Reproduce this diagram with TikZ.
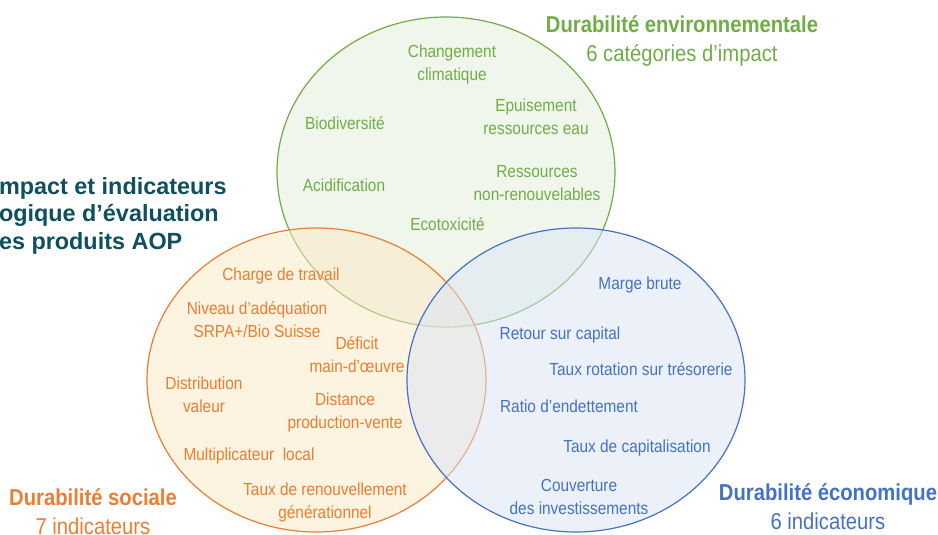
\documentclass[tikz,border=0pt]{standalone}
\usepackage{fontspec}
\setmainfont{Liberation Sans}[FakeStretch=0.88]
\newfontfamily\titlefont{Liberation Sans}
\definecolor{envColor}{RGB}{112,173,71}
\definecolor{socColor}{RGB}{237,125,49}
\definecolor{ecoColor}{RGB}{68,114,196}
\definecolor{envFill}{RGB}{226,239,218}
\definecolor{socFill}{RGB}{252,232,196}
\definecolor{ecoFill}{RGB}{218,229,245}
\definecolor{titleColor}{RGB}{14,79,96}
\begin{document}
\begin{tikzpicture}[x=1pt,y=1pt,
  txt/.style={anchor=base,inner sep=0pt,outer sep=0pt,align=center},
  item/.style={txt,font=\fontsize{17.5}{23}\selectfont},
  head/.style={txt,font=\fontsize{23}{29}\selectfont},
  bubble/.style={line width=1.2pt,fill opacity=0.5}]
\definecolor{fillColor}{RGB}{255,255,255}
\path[use as bounding box,fill=fillColor] (0,0) rectangle (938,535);

% the three domains
\path[bubble,draw=envColor,fill=envFill] (446,363) ellipse (169 and 155);
\path[bubble,draw=socColor,fill=socFill] (316.5,155) ellipse (169.5 and 152);
\path[bubble,draw=ecoColor,fill=ecoFill] (576,155) ellipse (169 and 152);

% title (base = last line)
\node[txt,align=left,anchor=base west,text=titleColor,font=\titlefont\bfseries\fontsize{23.4}{27.5}\selectfont] (title) at (-1,285.6)
  {mpact et indicateurs\\ogique d’évaluation\\es produits AOP};

% environnement
\node[head,text=envColor] (envHead) at (682,473.8) {{\bfseries Durabilité environnementale}\\6 catégories d’impact};
\node[item,text=envColor] (chgClim) at (452,454.7) {Changement\\climatique};
\node[item,text=envColor] (biodiv) at (345,405.7) {Biodiversité};
\node[item,text=envColor] (epuisEau) at (536,400.7) {Epuisement\\ressources eau};
\node[item,text=envColor] (acidif) at (344,343.7) {Acidification};
\node[item,text=envColor] (resNonRen) at (537,334.7) {Ressources\\non-renouvelables};
\node[item,text=envColor] (ecotox) at (447.5,304.7) {Ecotoxicité};

% social
\node[head,text=socColor] (socHead) at (93,0.8) {{\bfseries Durabilité sociale}\\7 indicateurs};
\node[item,text=socColor] (charge) at (281,254.7) {Charge de travail};
\node[item,text=socColor] (niveau) at (257,197.7) {Niveau d’adéquation\\SRPA+/Bio Suisse};
\node[item,text=socColor] (deficit) at (357,162.7) {Déficit\\main-d'œuvre};
\node[item,text=socColor] (distrib) at (204,122.7) {Distribution\\valeur};
\node[item,text=socColor] (distance) at (345,106.7) {Distance\\production-vente};
\node[item,text=socColor] (multLoc) at (249,74.7) {Multiplicateur \ local};
\node[item,text=socColor] (renouv) at (325,16.7) {Taux de renouvellement\\générationnel};

% economique
\node[head,text=ecoColor] (ecoHead) at (828,5.8) {{\bfseries Durabilité économique}\\6 indicateurs};
\node[item,text=ecoColor] (marge) at (640,245.7) {Marge brute};
\node[item,text=ecoColor] (retour) at (560,195.7) {Retour sur capital};
\node[item,text=ecoColor] (rotation) at (641,159.7) {Taux rotation sur trésorerie};
\node[item,text=ecoColor] (ratio) at (569,122.7) {Ratio d’endettement};
\node[item,text=ecoColor] (capital) at (637,82.7) {Taux de capitalisation};
\node[item,text=ecoColor] (couvert) at (579,20.7) {Couverture\\des investissements};
\end{tikzpicture}
\end{document}
